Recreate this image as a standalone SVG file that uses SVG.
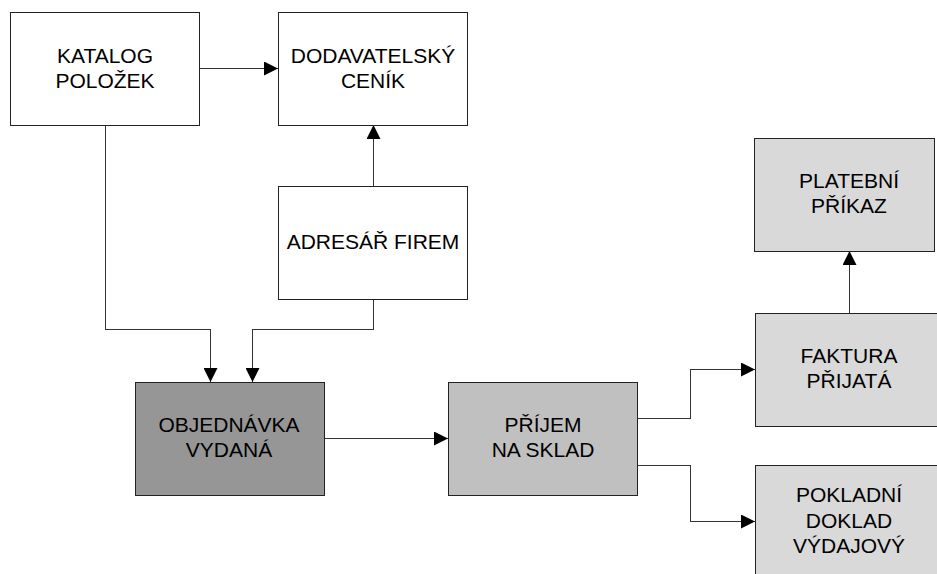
<svg xmlns="http://www.w3.org/2000/svg" width="937" height="574" viewBox="0 0 937 574">
<style>
.box{stroke:#222;stroke-width:1;shape-rendering:crispEdges}
.w{fill:#fff}.d{fill:#969696}.m{fill:#c0c0c0}.l{fill:#d9d9d9}
.t{font-family:"Liberation Sans",Arial,sans-serif;font-size:21px;fill:#000;text-anchor:middle}
.c{fill:none;stroke:#333;stroke-width:1;shape-rendering:crispEdges;marker-end:url(#ah)}
</style>
<defs>
<marker id="ah" viewBox="0 0 14 14" refX="14" refY="7" markerWidth="14" markerHeight="14" markerUnits="userSpaceOnUse" orient="auto">
<path d="M0,0 L14,7 L0,14 Z" fill="#000"/>
</marker>
</defs>
<rect width="937" height="574" fill="#fff"/>
<g id="connectors">
<path class="c" d="M199.5,68.5 H278"/>
<path class="c" d="M373.5,186 V125"/>
<path class="c" d="M105.5,125 V329.5 H210.5 V382"/>
<path class="c" d="M373.5,299 V329.5 H252.5 V382"/>
<path class="c" d="M324,438.5 H448"/>
<path class="c" d="M637,418.5 H690.5 V369.5 H755"/>
<path class="c" d="M637,465.5 H690.5 V521.5 H755"/>
<path class="c" d="M849.5,313 V251"/>
</g>
<g id="katalog">
<rect class="box w" x="10.5" y="12.5" width="189" height="113"/>
<text class="t" x="105" y="63">KATALOG</text>
<text class="t" x="105" y="88">POLOŽEK</text>
</g>
<g id="cenik">
<rect class="box w" x="278.5" y="12.5" width="189" height="113"/>
<text class="t" x="373" y="63">DODAVATELSKÝ</text>
<text class="t" x="373" y="88">CENÍK</text>
</g>
<g id="adresar">
<rect class="box w" x="278.5" y="186.5" width="189" height="113"/>
<text class="t" x="373" y="249">ADRESÁŘ FIREM</text>
</g>
<g id="objednavka">
<rect class="box d" x="135.5" y="382.5" width="189" height="113"/>
<text class="t" x="229" y="432">OBJEDNÁVKA</text>
<text class="t" x="229" y="457">VYDANÁ</text>
</g>
<g id="prijem">
<rect class="box m" x="448.5" y="382.5" width="189" height="113"/>
<text class="t" x="543" y="432">PŘÍJEM</text>
<text class="t" x="543" y="457">NA SKLAD</text>
</g>
<g id="platebni">
<rect class="box l" x="754.5" y="138.5" width="180" height="113"/>
<text class="t" x="849" y="188">PLATEBNÍ</text>
<text class="t" x="849" y="213">PŘÍKAZ</text>
</g>
<g id="faktura">
<rect class="box l" x="755.5" y="313.5" width="189" height="113"/>
<text class="t" x="849" y="363">FAKTURA</text>
<text class="t" x="849" y="388">PŘIJATÁ</text>
</g>
<g id="pokladni">
<rect class="box l" x="755.5" y="465.5" width="189" height="113"/>
<text class="t" x="849" y="502">POKLADNÍ</text>
<text class="t" x="849" y="528">DOKLAD</text>
<text class="t" x="849" y="553">VÝDAJOVÝ</text>
</g>
</svg>
